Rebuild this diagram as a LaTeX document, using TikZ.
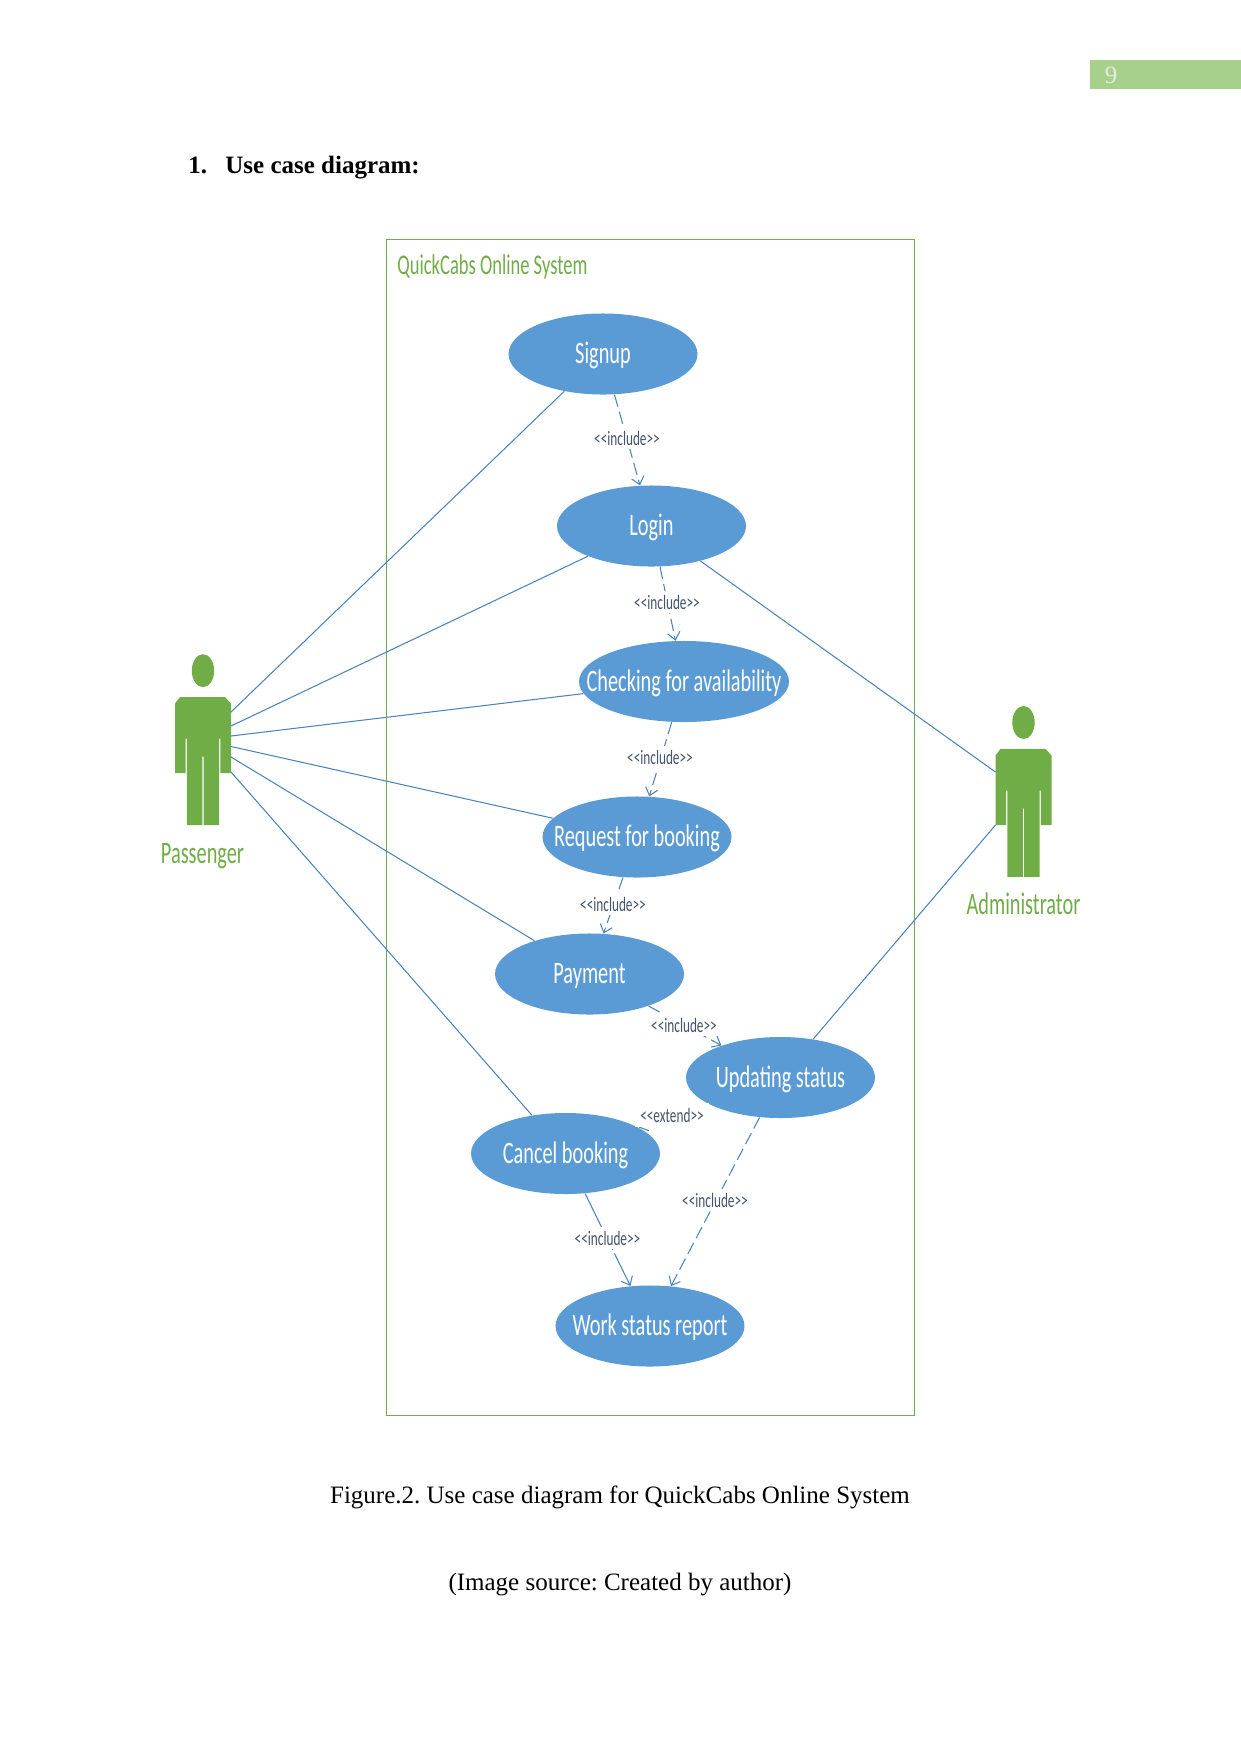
\documentclass[tikz,border=0pt]{standalone}
\usepackage{fontspec}
\usetikzlibrary{arrows.meta,shapes.geometric}
\setmainfont{Liberation Serif}
\newfontfamily\calnarrow[FakeStretch=0.65]{Carlito}
\definecolor{casefill}{HTML}{5B9BD5}
\definecolor{caseline}{HTML}{4A82BE}
\definecolor{actorgreen}{HTML}{70AD47}
\definecolor{bandgreen}{HTML}{A8D08D}
\definecolor{pagenum}{HTML}{E2EFD9}
\definecolor{stereo}{HTML}{44546A}
\tikzset{
  usecase/.style={ellipse,fill=casefill,text=white,inner xsep=-20pt,inner ysep=0pt,
    text height=12.2pt,text depth=3pt,
    minimum width=90.7pt,minimum height=38.9pt,font=\calnarrow\fontsize{15}{18}\selectfont},
  assoc/.style={draw=caseline,line width=0.5pt},
  dep/.style={draw=caseline,line width=0.5pt,dash pattern=on 6pt off 2.5pt,
    -{Straight Barb[length=3.6pt,width=6pt,line width=0.5pt]}},
  stereotype/.style={fill=white,text=stereo,inner xsep=1pt,inner ysep=0pt,minimum height=11pt,
    font=\calnarrow\fontsize{9.8}{11}\selectfont},
  actorlabel/.style={text=actorgreen,font=\calnarrow\fontsize{15}{18}\selectfont},
  pagetext/.style={text=black,inner sep=0pt,font=\frenchspacing\fontsize{12}{14}\selectfont}
}
% stick figure with its head centre at the given point
\newcommand{\actorfigure}[2]{%
  \begin{scope}[shift={(#1,#2)}]
    \fill[actorgreen] (0,0) ellipse [x radius=11.2,y radius=16.5];
    \fill[actorgreen] (-23,26.3) -- (22,26.3) -- (28,33) -- (28,102.5) -- (17.4,102.5)
      -- (17.4,68) -- (16.2,68) -- (16.2,154.3) -- (0.7,154.3) -- (0.7,86) -- (-0.7,86)
      -- (-0.7,154.3) -- (-16.2,154.3) -- (-16.2,68) -- (-17.4,68) -- (-17.4,102.5)
      -- (-28,102.5) -- (-28,33) -- cycle;
  \end{scope}}
\begin{document}
\begin{tikzpicture}[x=0.48pt,y=-0.48pt]
  \useasboundingbox (0,0) rectangle (1241,1754);

  % page furniture
  \fill[bandgreen] (1090,60) rectangle (1241,89);
  \node[text=pagenum,font=\fontsize{12}{14}\selectfont] (pageno) at (1111,75) {9};
  \node[pagetext,anchor=base west,font=\bfseries\fontsize{12}{14}\selectfont] (heading) at (188,173) {1.};
  \node[pagetext,anchor=base west,font=\bfseries\fontsize{12}{14}\selectfont] (headingtext) at (225,173) {Use case diagram:};
  \node[pagetext] (caption) at (620,1497) {Figure.2. Use case diagram for QuickCabs Online System};
  \node[pagetext] (source) at (620,1585) {(Image source: Created by author)};

  % system boundary
  \draw[actorgreen,line width=0.4pt] (386,239.5) rectangle (914,1415);
  \node[actorlabel,anchor=west,inner sep=0pt,font=\calnarrow\fontsize{13.7}{16}\selectfont] (system) at (397,267) {QuickCabs Online System};

  % actors
  \actorfigure{203}{670.7}
  \actorfigure{1023.5}{722.5}
  \node[actorlabel] (passenger) at (202.5,856) {Passenger};
  \node[actorlabel] (administrator) at (1023.5,904) {Administrator};

  % actor attachment points
  \coordinate (pa1) at (231,712);
  \coordinate (pa2) at (231,726);
  \coordinate (pa3) at (231,736);
  \coordinate (pa4) at (231,746.5);
  \coordinate (pa5) at (231,757);
  \coordinate (pa6) at (231,772);
  \coordinate (ad1) at (995.5,772);
  \coordinate (ad2) at (995.5,825);

  % use cases
  \node[usecase] (signup) at (603,354) {Signup};
  \node[usecase] (login) at (651.5,526) {Login};
  \node[usecase,minimum width=100.8pt] (checking) at (684,681.5) {Checking for availability};
  \node[usecase] (request) at (637,837) {Request for booking};
  \node[usecase] (payment) at (589.5,974) {Payment};
  \node[usecase] (updating) at (780.5,1077.5) {Updating status};
  \node[usecase] (cancel) at (565.5,1153.5) {Cancel booking};
  \node[usecase] (work) at (650,1326) {Work status report};

  % associations
  \draw[assoc] (pa1) -- (signup);
  \draw[assoc] (pa2) -- (login);
  \draw[assoc] (pa3) -- (checking);
  \draw[assoc] (pa4) -- (request);
  \draw[assoc] (pa5) -- (payment);
  \draw[assoc] (pa6) -- (cancel);
  \draw[assoc] (ad1) -- (login);
  \draw[assoc] (ad2) -- (updating);

  % dependencies
  \draw[dep] (signup) -- (login);
  \draw[dep] (login) -- (checking);
  \draw[dep] (checking) -- (request);
  \draw[dep] (request) -- (payment);
  \draw[dep] (payment) -- (updating);
  \draw[dep] (updating) -- (cancel);
  \draw[dep,dash pattern=on 30pt off 2pt] (cancel) -- (work);
  \draw[dep] (updating) -- (work);

  % stereotype labels
  \node[stereotype] (lab1) at (627,438) {<<include>>};
  \node[stereotype] (lab2) at (667,602) {<<include>>};
  \node[stereotype] (lab3) at (660,757) {<<include>>};
  \node[stereotype] (lab4) at (613,904) {<<include>>};
  \node[stereotype] (lab5) at (684,1025) {<<include>>};
  \node[stereotype,inner xsep=2.5pt,minimum height=11.5pt] (lab6) at (672,1115) {<<extend>>};
  \node[stereotype] (lab7) at (715,1200) {<<include>>};
  \node[stereotype] (lab8) at (607.5,1238) {<<include>>};
\end{tikzpicture}
\end{document}
